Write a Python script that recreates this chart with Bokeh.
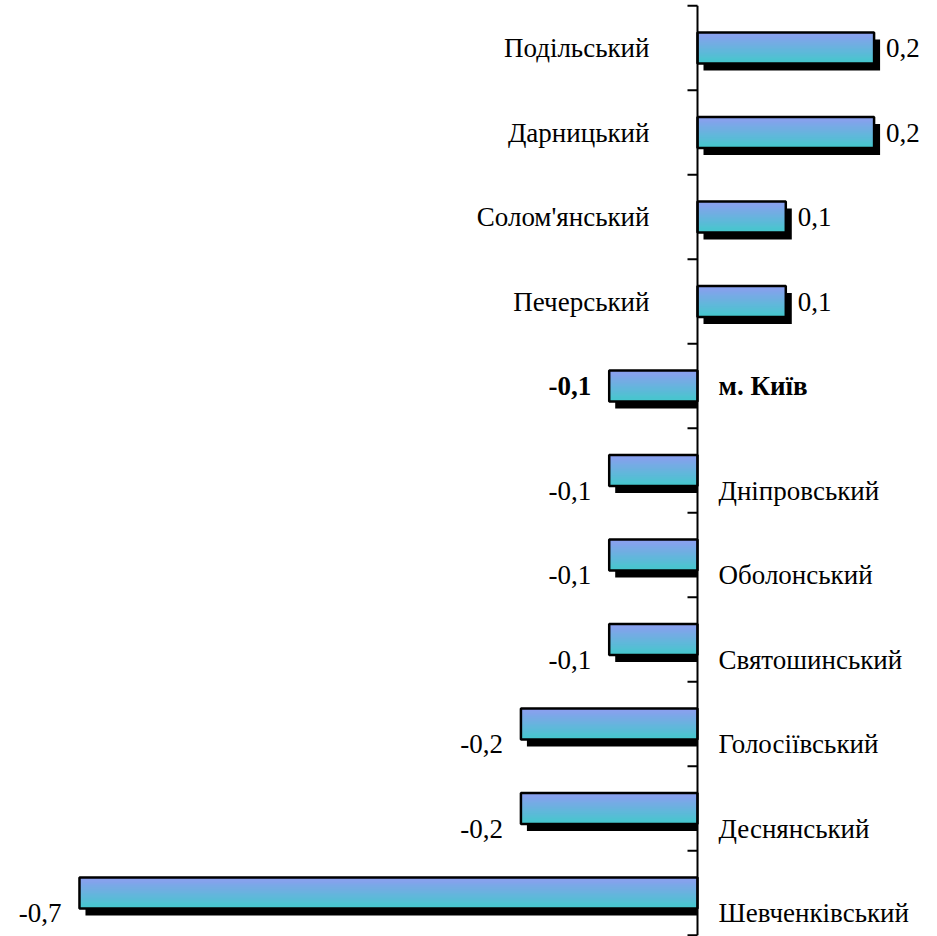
import numpy as np
from bokeh.plotting import figure
from bokeh.models import ColumnDataSource, Range1d
from bokeh.embed import file_html
from bokeh.resources import INLINE
from bokeh.core.properties import value

# ---- data -------------------------------------------------------------
districts = ["Подільський", "Дарницький", "Солом'янський", "Печерський",
             "м. Київ", "Дніпровський", "Оболонський", "Святошинський",
             "Голосіївський", "Деснянський", "Шевченківський"]
values = [0.2, 0.2, 0.1, 0.1, -0.1, -0.1, -0.1, -0.1, -0.2, -0.2, -0.7]
total_name = "м. Київ"

# ---- layout -----------------------------------------------------------
W, H = 937, 936
PX_X = 882.9
PX_Y = 84.5
X0, X1 = -697 / PX_X, (W - 697) / PX_X
Y_TOP, Y_BOT = -47.5 / PX_Y, (H - 47.5) / PX_Y
FONT = value("'Liberation Serif', 'Times New Roman', serif")

vals = np.array(values, dtype=float)
idx = np.arange(len(districts), dtype=float)
n = len(districts)

p = figure(width=W, height=H, output_backend="svg", toolbar_location=None,
           x_range=Range1d(X0, X1), y_range=Range1d(Y_BOT, Y_TOP),
           x_axis_type=None, y_axis_type=None, min_border=0,
           background_fill_color="white", border_fill_color="white",
           outline_line_color=None)
p.xgrid.visible = False
p.ygrid.visible = False

bar_h = 31 / PX_Y
sx, sy = 6 / PX_X, 7 / PX_Y
left = np.minimum(vals, 0)
right = np.maximum(vals, 0)

# shadow
sh_left = np.where(vals < 0, vals + sx, sx)
sh_right = np.where(vals < 0, 0.0, vals + sx)
p.hbar(y=idx + sy, left=sh_left, right=sh_right, height=bar_h,
       fill_color="black", line_color=None)

# gradient fill (top periwinkle -> bottom turquoise); each band reaches the bar bottom
c_top = np.array([0x8c, 0x9e, 0xf0])
c_bot = np.array([0x44, 0xc8, 0xcc])
N = 24
for k in range(N):
    t = k / (N - 1)
    c = (c_top * (1 - t) + c_bot * t).round().astype(int)
    col = "#%02x%02x%02x" % tuple(c)
    top = -bar_h / 2 + k * bar_h / N
    hh = bar_h / 2 - top
    p.hbar(y=idx + top + hh / 2, left=left, right=right, height=hh,
           fill_color=col, line_color=None)

# outline
p.hbar(y=idx, left=left, right=right, height=bar_h,
       fill_alpha=0, line_color="black", line_width=2.5)

# vertical axis at zero with ticks on the left
p.segment(x0=[0], y0=[-0.5], x1=[0], y1=[n - 0.5], line_color="black", line_width=2)
tick_y = np.arange(n + 1) - 0.5
tick_len = 10 / PX_X
p.segment(x0=np.full(n + 1, -tick_len), y0=tick_y, x1=np.zeros(n + 1), y1=tick_y,
          line_color="black", line_width=2)

# labels
is_total = np.array([d == total_name for d in districts])
neg = vals < 0
yoff = np.where(neg & ~is_total, 20, 0)
style = np.where(is_total, "bold", "normal")
val_txt = [("%.1f" % v).replace(".", ",") for v in vals]

name_src = ColumnDataSource(dict(
    x=np.zeros(n), y=idx, text=districts,
    xo=np.where(neg, 21, -48), yo=yoff,
    align=np.where(neg, "left", "right"), style=style))
p.text(x="x", y="y", text="text", x_offset="xo", y_offset="yo",
       text_align="align", text_baseline="middle", text_font_style="style",
       text_font=FONT, text_font_size="27px",
       text_color="black", source=name_src)

val_src = ColumnDataSource(dict(
    x=vals, y=idx, text=val_txt,
    xo=np.where(neg, -18, 12), yo=yoff,
    align=np.where(neg, "right", "left"), style=style))
p.text(x="x", y="y", text="text", x_offset="xo", y_offset="yo",
       text_align="align", text_baseline="middle", text_font_style="style",
       text_font=FONT, text_font_size="27px",
       text_color="black", source=val_src)

open("out.html", "w").write(file_html(p, INLINE))
